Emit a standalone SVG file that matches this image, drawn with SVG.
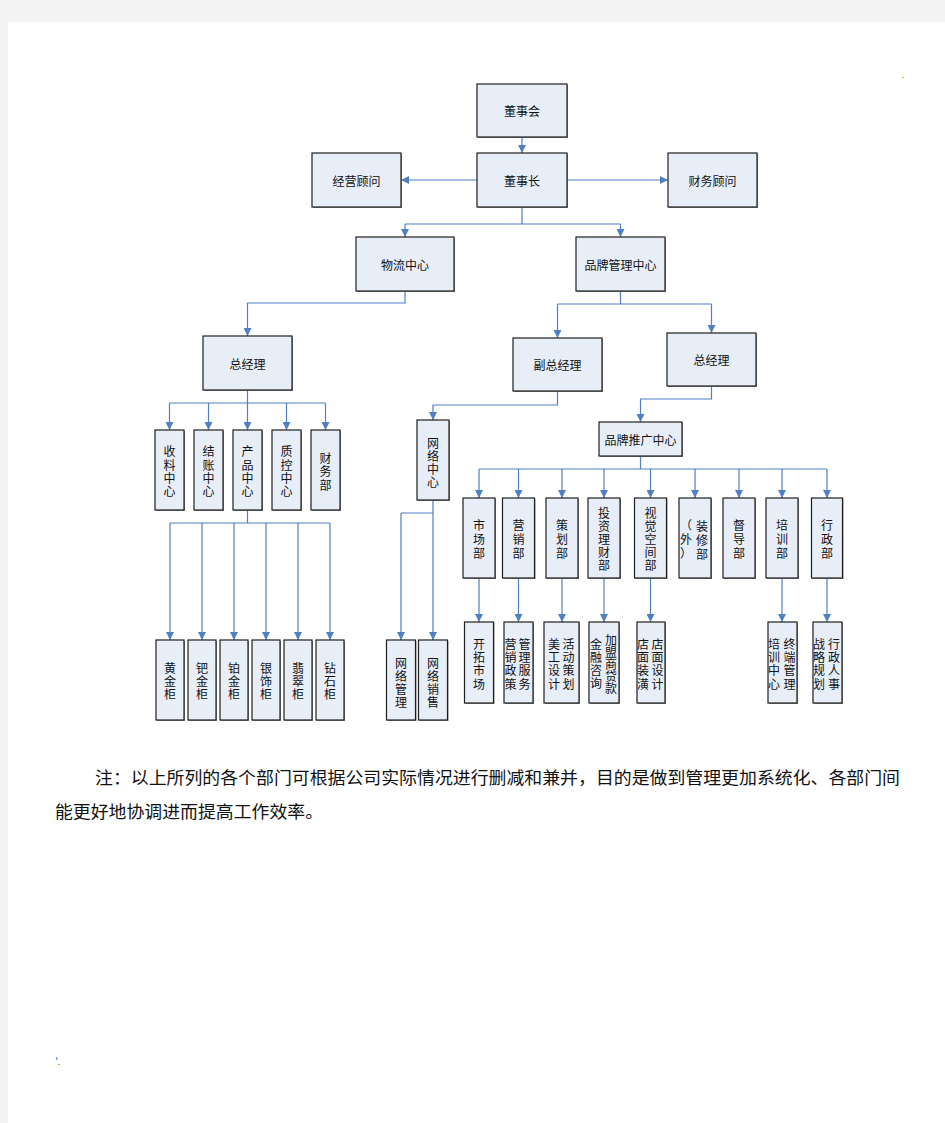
<svg xmlns="http://www.w3.org/2000/svg" width="945" height="1123" viewBox="0 0 945 1123">
<style>
.bx{fill:#e8eef8;stroke:#1e1e1e;stroke-width:1.2}
.sh{fill:#8c8c8c}
.t{font-family:"Noto Sans CJK SC","Noto Sans",sans-serif;font-size:12px;fill:#111;text-anchor:middle;dominant-baseline:central}
.c{fill:none;stroke:#4f7fc4;stroke-width:1.2}
.note{font-family:"Noto Sans CJK SC","Noto Sans",sans-serif;font-size:17px;fill:#111}
</style>
<defs>
<marker id="ar" markerUnits="userSpaceOnUse" markerWidth="8" markerHeight="8" refX="8" refY="4" orient="auto">
<path d="M0,0 L8,4 L0,8 z" fill="#4f7fc4"/>
</marker>
</defs>
<rect x="0" y="0" width="945" height="1123" fill="#f3f3f3"/>
<rect x="8" y="22" width="937" height="1101" fill="#ffffff"/>
<rect x="902" y="77" width="2" height="1" fill="#f0a040"/>
<rect x="56" y="1057" width="1.5" height="3" fill="#80a8e0"/>
<rect x="58" y="1064" width="2" height="1" fill="#e0a040"/>

<g id="connectors">
<path class="c" d="M522,137 V153" marker-end="url(#ar)"/>
<path class="c" d="M477,180 H401" marker-end="url(#ar)"/>
<path class="c" d="M567,180 H668" marker-end="url(#ar)"/>
<path class="c" d="M522,207 V224 M405,224 H620.5"/>
<path class="c" d="M405,224 V237" marker-end="url(#ar)"/>
<path class="c" d="M620.5,224 V237" marker-end="url(#ar)"/>
<path class="c" d="M405,291 V303 H247.5 V336" marker-end="url(#ar)"/>
<path class="c" d="M247.5,390 V403 M169.5,403 H325.5"/>
<path class="c" d="M169.5,403 V430" marker-end="url(#ar)"/>
<path class="c" d="M208.5,403 V430" marker-end="url(#ar)"/>
<path class="c" d="M247.5,403 V430" marker-end="url(#ar)"/>
<path class="c" d="M286.5,403 V430" marker-end="url(#ar)"/>
<path class="c" d="M325.5,403 V430" marker-end="url(#ar)"/>
<path class="c" d="M247.5,510 V523 M170,523 H330"/>
<path class="c" d="M170,523 V640" marker-end="url(#ar)"/>
<path class="c" d="M202,523 V640" marker-end="url(#ar)"/>
<path class="c" d="M234,523 V640" marker-end="url(#ar)"/>
<path class="c" d="M266,523 V640" marker-end="url(#ar)"/>
<path class="c" d="M298,523 V640" marker-end="url(#ar)"/>
<path class="c" d="M330,523 V640" marker-end="url(#ar)"/>
<path class="c" d="M620.5,291 V304 M557.5,304 H711.5"/>
<path class="c" d="M557.5,304 V338" marker-end="url(#ar)"/>
<path class="c" d="M711.5,304 V333" marker-end="url(#ar)"/>
<path class="c" d="M557.5,391 V405 H433 V420" marker-end="url(#ar)"/>
<path class="c" d="M433,500 V513 M401,513 H433"/>
<path class="c" d="M401,513 V640" marker-end="url(#ar)"/>
<path class="c" d="M433,513 V640" marker-end="url(#ar)"/>
<path class="c" d="M711.5,386 V399 H640.5 V422" marker-end="url(#ar)"/>
<path class="c" d="M640.5,456 V469 M479,469 H827"/>
<path class="c" d="M479,469 V498" marker-end="url(#ar)"/>
<path class="c" d="M518.5,469 V498" marker-end="url(#ar)"/>
<path class="c" d="M562,469 V498" marker-end="url(#ar)"/>
<path class="c" d="M604,469 V498" marker-end="url(#ar)"/>
<path class="c" d="M650.5,469 V498" marker-end="url(#ar)"/>
<path class="c" d="M695,469 V498" marker-end="url(#ar)"/>
<path class="c" d="M739,469 V498" marker-end="url(#ar)"/>
<path class="c" d="M782,469 V498" marker-end="url(#ar)"/>
<path class="c" d="M827,469 V498" marker-end="url(#ar)"/>
<path class="c" d="M479,578 V622" marker-end="url(#ar)"/>
<path class="c" d="M518.5,578 V622" marker-end="url(#ar)"/>
<path class="c" d="M562,578 V622" marker-end="url(#ar)"/>
<path class="c" d="M604,578 V622" marker-end="url(#ar)"/>
<path class="c" d="M650.5,578 V622" marker-end="url(#ar)"/>
<path class="c" d="M782,578 V622" marker-end="url(#ar)"/>
<path class="c" d="M827,578 V622" marker-end="url(#ar)"/>
</g>

<g id="n-dongshihui"><rect class="sh" x="478" y="85" width="90" height="53"/><rect class="bx" x="477" y="84" width="90" height="53"/><text class="t" x="522" y="110.5">董事会</text></g>
<g id="n-dongshizhang"><rect class="sh" x="478" y="154" width="90" height="54"/><rect class="bx" x="477" y="153" width="90" height="54"/><text class="t" x="522" y="180">董事长</text></g>
<g id="n-jingying"><rect class="sh" x="313" y="154" width="89" height="54"/><rect class="bx" x="312" y="153" width="89" height="54"/><text class="t" x="356.5" y="180">经营顾问</text></g>
<g id="n-caiwuguwen"><rect class="sh" x="669" y="154" width="89" height="54"/><rect class="bx" x="668" y="153" width="89" height="54"/><text class="t" x="712.5" y="180">财务顾问</text></g>
<g id="n-wuliu"><rect class="sh" x="357" y="238" width="98" height="54"/><rect class="bx" x="356" y="237" width="98" height="54"/><text class="t" x="405" y="264">物流中心</text></g>
<g id="n-pinpaiguanli"><rect class="sh" x="577" y="238" width="89" height="54"/><rect class="bx" x="576" y="237" width="89" height="54"/><text class="t" x="620.5" y="264">品牌管理中心</text></g>
<g id="n-zongjingli-l"><rect class="sh" x="204" y="337" width="89" height="54"/><rect class="bx" x="203" y="336" width="89" height="54"/><text class="t" x="247.5" y="363">总经理</text></g>
<g id="n-fuzong"><rect class="sh" x="514" y="339" width="89" height="53"/><rect class="bx" x="513" y="338" width="89" height="53"/><text class="t" x="557.5" y="364.5">副总经理</text></g>
<g id="n-zongjingli-r"><rect class="sh" x="668" y="334" width="89" height="53"/><rect class="bx" x="667" y="333" width="89" height="53"/><text class="t" x="711.5" y="359.5">总经理</text></g>
<g id="n-tuiguang"><rect class="sh" x="600" y="423" width="83" height="34"/><rect class="bx" x="599" y="422" width="83" height="34"/><text class="t" x="640.5" y="439">品牌推广中心</text></g>

<g id="n-shouliao"><rect class="sh" x="156" y="431" width="29" height="80"/><rect class="bx" x="155" y="430" width="29" height="80"/><text class="t"><tspan x="169.5" y="450">收</tspan><tspan x="169.5" y="463.5">料</tspan><tspan x="169.5" y="477">中</tspan><tspan x="169.5" y="490">心</tspan></text></g>
<g id="n-jiezhang"><rect class="sh" x="195" y="431" width="29" height="80"/><rect class="bx" x="194" y="430" width="29" height="80"/><text class="t"><tspan x="208.5" y="450">结</tspan><tspan x="208.5" y="463.5">账</tspan><tspan x="208.5" y="477">中</tspan><tspan x="208.5" y="490">心</tspan></text></g>
<g id="n-chanpin"><rect class="sh" x="234" y="431" width="29" height="80"/><rect class="bx" x="233" y="430" width="29" height="80"/><text class="t"><tspan x="247.5" y="450">产</tspan><tspan x="247.5" y="463.5">品</tspan><tspan x="247.5" y="477">中</tspan><tspan x="247.5" y="490">心</tspan></text></g>
<g id="n-zhikong"><rect class="sh" x="273" y="431" width="29" height="80"/><rect class="bx" x="272" y="430" width="29" height="80"/><text class="t"><tspan x="286.5" y="450">质</tspan><tspan x="286.5" y="463.5">控</tspan><tspan x="286.5" y="477">中</tspan><tspan x="286.5" y="490">心</tspan></text></g>
<g id="n-caiwubu"><rect class="sh" x="312" y="431" width="29" height="80"/><rect class="bx" x="311" y="430" width="29" height="80"/><text class="t"><tspan x="325.5" y="456.5">财</tspan><tspan x="325.5" y="470">务</tspan><tspan x="325.5" y="483.5">部</tspan></text></g>

<g id="n-huangjin"><rect class="sh" x="157" y="641" width="28" height="80"/><rect class="bx" x="156" y="640" width="28" height="80"/><text class="t"><tspan x="170" y="667">黄</tspan><tspan x="170" y="680">金</tspan><tspan x="170" y="693">柜</tspan></text></g>
<g id="n-bajin"><rect class="sh" x="189" y="641" width="28" height="80"/><rect class="bx" x="188" y="640" width="28" height="80"/><text class="t"><tspan x="202" y="667">钯</tspan><tspan x="202" y="680">金</tspan><tspan x="202" y="693">柜</tspan></text></g>
<g id="n-bojin"><rect class="sh" x="221" y="641" width="28" height="80"/><rect class="bx" x="220" y="640" width="28" height="80"/><text class="t"><tspan x="234" y="667">铂</tspan><tspan x="234" y="680">金</tspan><tspan x="234" y="693">柜</tspan></text></g>
<g id="n-yinshi"><rect class="sh" x="253" y="641" width="28" height="80"/><rect class="bx" x="252" y="640" width="28" height="80"/><text class="t"><tspan x="266" y="667">银</tspan><tspan x="266" y="680">饰</tspan><tspan x="266" y="693">柜</tspan></text></g>
<g id="n-feicui"><rect class="sh" x="285" y="641" width="28" height="80"/><rect class="bx" x="284" y="640" width="28" height="80"/><text class="t"><tspan x="298" y="667">翡</tspan><tspan x="298" y="680">翠</tspan><tspan x="298" y="693">柜</tspan></text></g>
<g id="n-zuanshi"><rect class="sh" x="317" y="641" width="28" height="80"/><rect class="bx" x="316" y="640" width="28" height="80"/><text class="t"><tspan x="330" y="667">钻</tspan><tspan x="330" y="680">石</tspan><tspan x="330" y="693">柜</tspan></text></g>

<g id="n-wangluozhongxin"><rect class="sh" x="418" y="421" width="32" height="80"/><rect class="bx" x="417" y="420" width="32" height="80"/><text class="t"><tspan x="433" y="441.5">网</tspan><tspan x="433" y="454.5">络</tspan><tspan x="433" y="467.5">中</tspan><tspan x="433" y="480.5">心</tspan></text></g>
<g id="n-wangluoguanli"><rect class="sh" x="387.5" y="641" width="29" height="80"/><rect class="bx" x="386.5" y="640" width="29" height="80"/><text class="t"><tspan x="401" y="662">网</tspan><tspan x="401" y="675">络</tspan><tspan x="401" y="688">管</tspan><tspan x="401" y="701">理</tspan></text></g>
<g id="n-wangluoxiaoshou"><rect class="sh" x="419.5" y="641" width="29" height="80"/><rect class="bx" x="418.5" y="640" width="29" height="80"/><text class="t"><tspan x="433" y="662">网</tspan><tspan x="433" y="675">络</tspan><tspan x="433" y="688">销</tspan><tspan x="433" y="701">售</tspan></text></g>

<g id="n-shichang"><rect class="sh" x="464" y="499" width="32" height="80"/><rect class="bx" x="463" y="498" width="32" height="80"/><text class="t"><tspan x="479" y="524">市</tspan><tspan x="479" y="538">场</tspan><tspan x="479" y="552">部</tspan></text></g>
<g id="n-yingxiao"><rect class="sh" x="503.5" y="499" width="32" height="80"/><rect class="bx" x="502.5" y="498" width="32" height="80"/><text class="t"><tspan x="518.5" y="524">营</tspan><tspan x="518.5" y="538">销</tspan><tspan x="518.5" y="552">部</tspan></text></g>
<g id="n-cehua"><rect class="sh" x="547" y="499" width="32" height="80"/><rect class="bx" x="546" y="498" width="32" height="80"/><text class="t"><tspan x="562" y="524">策</tspan><tspan x="562" y="538">划</tspan><tspan x="562" y="552">部</tspan></text></g>
<g id="n-touzi"><rect class="sh" x="589" y="499" width="32" height="80"/><rect class="bx" x="588" y="498" width="32" height="80"/><text class="t"><tspan x="604" y="512">投</tspan><tspan x="604" y="525">资</tspan><tspan x="604" y="538">理</tspan><tspan x="604" y="551">财</tspan><tspan x="604" y="564">部</tspan></text></g>
<g id="n-shijue"><rect class="sh" x="635.5" y="499" width="32" height="80"/><rect class="bx" x="634.5" y="498" width="32" height="80"/><text class="t"><tspan x="650.5" y="512">视</tspan><tspan x="650.5" y="525">觉</tspan><tspan x="650.5" y="538">空</tspan><tspan x="650.5" y="551">间</tspan><tspan x="650.5" y="564">部</tspan></text></g>
<g id="n-zhuangxiu"><rect class="sh" x="680" y="499" width="32" height="80"/><rect class="bx" x="679" y="498" width="32" height="80"/><text class="t"><tspan x="702" y="525">装</tspan><tspan x="702" y="539">修</tspan><tspan x="702" y="553">部</tspan><tspan x="686" y="524">（</tspan><tspan x="686" y="538">外</tspan><tspan x="686" y="552">）</tspan></text></g>
<g id="n-dudao"><rect class="sh" x="724" y="499" width="32" height="80"/><rect class="bx" x="723" y="498" width="32" height="80"/><text class="t"><tspan x="739" y="524">督</tspan><tspan x="739" y="538">导</tspan><tspan x="739" y="552">部</tspan></text></g>
<g id="n-peixun"><rect class="sh" x="767" y="499" width="32" height="80"/><rect class="bx" x="766" y="498" width="32" height="80"/><text class="t"><tspan x="782" y="524">培</tspan><tspan x="782" y="538">训</tspan><tspan x="782" y="552">部</tspan></text></g>
<g id="n-xingzheng"><rect class="sh" x="812.5" y="499" width="31" height="80"/><rect class="bx" x="811.5" y="498" width="31" height="80"/><text class="t"><tspan x="827" y="524">行</tspan><tspan x="827" y="538">政</tspan><tspan x="827" y="552">部</tspan></text></g>

<g id="n-kaituo"><rect class="sh" x="465.5" y="623" width="29" height="81"/><rect class="bx" x="464.5" y="622" width="29" height="81"/><text class="t"><tspan x="479" y="642.5">开</tspan><tspan x="479" y="655.8">拓</tspan><tspan x="479" y="669.2">市</tspan><tspan x="479" y="682.5">场</tspan></text></g>
<g id="n-guanlifuwu"><rect class="sh" x="505" y="623" width="29" height="81"/><rect class="bx" x="504" y="622" width="29" height="81"/><text class="t"><tspan x="524.5" y="642.5">管</tspan><tspan x="524.5" y="655.8">理</tspan><tspan x="524.5" y="669.2">服</tspan><tspan x="524.5" y="682.5">务</tspan><tspan x="510.5" y="642.5">营</tspan><tspan x="510.5" y="655.8">销</tspan><tspan x="510.5" y="669.2">政</tspan><tspan x="510.5" y="682.5">策</tspan></text></g>
<g id="n-huodong"><rect class="sh" x="545" y="623" width="35" height="81"/><rect class="bx" x="544" y="622" width="35" height="81"/><text class="t"><tspan x="568.5" y="642.5">活</tspan><tspan x="568.5" y="655.8">动</tspan><tspan x="568.5" y="669.2">策</tspan><tspan x="568.5" y="682.5">划</tspan><tspan x="554" y="642.5">美</tspan><tspan x="554" y="655.8">工</tspan><tspan x="554" y="669.2">设</tspan><tspan x="554" y="682.5">计</tspan></text></g>
<g id="n-jiameng"><rect class="sh" x="590" y="623" width="30" height="81"/><rect class="bx" x="589" y="622" width="30" height="81"/><text class="t"><tspan x="611" y="639">加</tspan><tspan x="611" y="651">盟</tspan><tspan x="611" y="663">商</tspan><tspan x="611" y="675">贷</tspan><tspan x="611" y="687">款</tspan><tspan x="596" y="643">金</tspan><tspan x="596" y="656">融</tspan><tspan x="596" y="669">咨</tspan><tspan x="596" y="682">询</tspan></text></g>
<g id="n-dianmian"><rect class="sh" x="638" y="623" width="28" height="81"/><rect class="bx" x="637" y="622" width="28" height="81"/><text class="t"><tspan x="657.5" y="642.5">店</tspan><tspan x="657.5" y="655.8">面</tspan><tspan x="657.5" y="669.2">设</tspan><tspan x="657.5" y="682.5">计</tspan><tspan x="643" y="642.5">店</tspan><tspan x="643" y="655.8">面</tspan><tspan x="643" y="669.2">装</tspan><tspan x="643" y="682.5">潢</tspan></text></g>
<g id="n-zhongduan"><rect class="sh" x="769" y="623" width="29" height="81"/><rect class="bx" x="768" y="622" width="29" height="81"/><text class="t"><tspan x="789.5" y="642.5">终</tspan><tspan x="789.5" y="655.8">端</tspan><tspan x="789.5" y="669.2">管</tspan><tspan x="789.5" y="682.5">理</tspan><tspan x="774" y="642.5">培</tspan><tspan x="774" y="655.8">训</tspan><tspan x="774" y="669.2">中</tspan><tspan x="774" y="682.5">心</tspan></text></g>
<g id="n-xingzhengrenshi"><rect class="sh" x="814" y="623" width="29" height="81"/><rect class="bx" x="813" y="622" width="29" height="81"/><text class="t"><tspan x="834" y="642.5">行</tspan><tspan x="834" y="655.8">政</tspan><tspan x="834" y="669.2">人</tspan><tspan x="834" y="682.5">事</tspan><tspan x="819" y="642.5">战</tspan><tspan x="819" y="655.8">略</tspan><tspan x="819" y="669.2">规</tspan><tspan x="819" y="682.5">划</tspan></text></g>

<text class="note" x="95" y="784" textLength="805" lengthAdjust="spacingAndGlyphs">注：以上所列的各个部门可根据公司实际情况进行删减和兼并，目的是做到管理更加系统化、各部门间</text>
<text class="note" x="55" y="818" textLength="268" lengthAdjust="spacingAndGlyphs">能更好地协调进而提高工作效率。</text>
</svg>
